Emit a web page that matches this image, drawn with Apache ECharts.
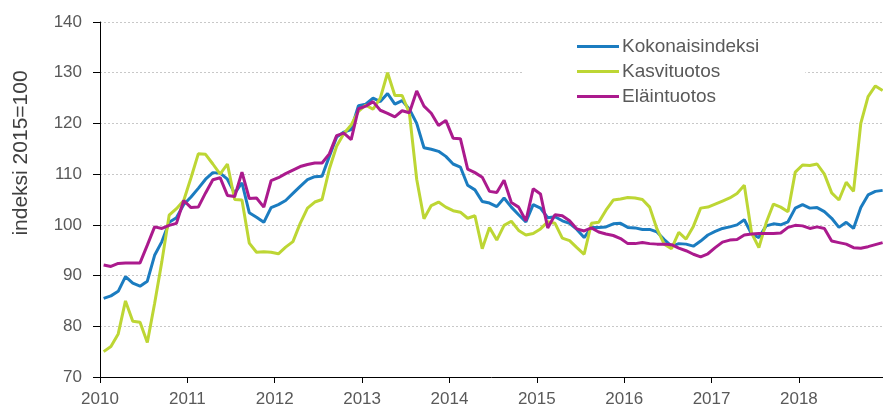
<!DOCTYPE html>
<html><head><meta charset="utf-8">
<script src="https://cdn.jsdelivr.net/npm/echarts@6/dist/echarts.min.js"></script>
<style>html,body{margin:0;padding:0;background:#fff}#c{width:883px;height:412px}</style>
</head><body><div id="c"></div><script>
const years = ['2010','2011','2012','2013','2014','2015','2016','2017','2018'];
const seriesNames = ['Kokonaisindeksi','Kasvituotos','Eläintuotos'];
const yTicks = [70,80,90,100,110,120,130,140];
// monthly values Jan 2010 .. Dec 2018
const kokonais = [
 85.5,86.0,86.9,89.8,88.5,87.9,88.9,94.0,96.7,100.5,101.4,104.0,
 105.5,107.2,109.0,110.3,110.2,109.0,106.2,108.3,102.4,101.5,100.5,103.4,
 104.0,104.8,106.2,107.6,108.9,109.5,109.6,113.5,117.3,118.3,118.8,123.5,
 123.8,125.0,124.3,125.9,123.8,124.5,122.8,120.0,115.2,114.9,114.5,113.5,
 112.0,111.4,107.8,106.9,104.6,104.3,103.6,105.3,103.5,102.0,100.6,104.0,
 103.3,101.4,101.6,100.8,100.3,99.1,97.5,99.5,99.5,99.6,100.2,100.3,
 99.5,99.4,99.1,99.1,98.6,97.1,95.8,96.3,96.2,95.8,96.8,98.0,
 98.7,99.3,99.6,100.0,101.0,98.2,97.5,99.8,100.2,100.0,100.6,103.3,
 104.0,103.3,103.4,102.6,101.3,99.5,100.5,99.3,103.4,105.9,106.6,106.8
];
const kasvi = [
 75.0,76.0,78.5,85.0,81.0,80.8,76.8,84.5,92.8,101.9,103.2,104.8,
 109.3,114.0,113.9,112.0,110.0,112.0,105.0,104.9,96.4,94.6,94.7,94.6,
 94.3,95.6,96.7,100.3,103.3,104.5,105.0,111.0,115.5,118.0,119.7,122.4,
 123.6,122.8,125.0,130.0,125.5,125.5,122.0,109.0,101.2,103.8,104.5,103.5,
 102.8,102.5,101.3,101.8,95.3,99.5,97.0,99.9,100.7,98.9,98.0,98.3,
 99.2,100.6,100.3,97.4,96.9,95.5,94.2,100.3,100.5,102.9,104.9,105.1,
 105.4,105.3,105.0,103.5,99.2,96.2,95.3,98.5,97.2,99.7,103.3,103.5,
 104.1,104.7,105.3,106.2,107.8,98.4,95.5,100.4,104.1,103.5,102.6,110.4,
 111.8,111.7,112.0,110.0,106.3,104.9,108.4,106.6,120.0,125.3,127.4,126.5
];
const elain = [
 92.1,91.8,92.4,92.5,92.5,92.5,96.0,99.6,99.3,99.9,100.3,104.8,
 103.4,103.5,106.3,108.9,109.3,105.8,105.6,110.4,105.2,105.3,103.5,108.7,
 109.3,110.1,110.8,111.5,111.9,112.2,112.2,114.0,117.6,118.1,116.8,122.9,
 123.4,124.3,122.6,122.0,121.3,122.5,122.1,126.4,123.4,122.0,119.6,120.6,
 117.1,117.0,111.0,110.3,109.4,106.6,106.4,108.8,104.4,103.5,100.8,107.1,
 106.1,99.4,102.0,101.8,100.8,99.2,98.8,99.4,98.6,98.2,97.9,97.3,
 96.3,96.3,96.5,96.3,96.2,96.2,96.1,95.4,94.9,94.2,93.7,94.3,
 95.5,96.6,97.0,97.1,98.0,98.2,98.3,98.3,98.3,98.4,99.5,99.9,
 99.8,99.3,99.6,99.3,96.8,96.5,96.2,95.5,95.4,95.7,96.1,96.5
];
const colors = ['#1b7cc0','#bdd634','#ab1a8d'];
const seriesValues = [kokonais, kasvi, elain];
const FONT = '"Liberation Sans", Arial, sans-serif';
const TXT = '#595959';

const chart = echarts.init(document.getElementById('c'), null, {renderer:'canvas'});
chart.setOption({
  animation: false,
  backgroundColor: '#fff',
  grid: {left: 100, right: 0, top: 22, bottom: 35, outerBoundsMode: 'none'},
  xAxis: {
    type: 'value', min: 0, max: 107.55, interval: 12,
    axisLine: {show: true, lineStyle: {color: '#000', width: 1}},
    axisTick: {show: true, length: 6, lineStyle: {color: '#000'}},
    splitLine: {show: false},
    axisLabel: {
      margin: 14, fontSize: 17, color: TXT, fontFamily: FONT,
      formatter: v => (Math.abs(v % 12) < 1e-6 && years[v/12]) ? years[v/12] : ''
    }
  },
  yAxis: {
    type: 'value', min: yTicks[0], max: yTicks[yTicks.length-1], interval: 10,
    axisLine: {show: true, lineStyle: {color: '#000', width: 1}},
    axisTick: {show: true, length: 7, lineStyle: {color: '#000'}},
    splitLine: {show: true, lineStyle: {color: '#c8c8c8', type: [2, 2], width: 1}},
    axisLabel: {margin: 18, fontSize: 17, color: TXT, fontFamily: FONT}
  },
  legend: {
    orient: 'vertical', left: 522, top: 25,
    padding: [12, 46, 12, 55], backgroundColor: '#fff',
    icon: 'rect', itemWidth: 42, itemHeight: 3, itemGap: 6,
    textStyle: {fontSize: 19, color: TXT, fontFamily: FONT, padding: [0,0,0,-2]},
    data: seriesNames
  },
  graphic: [{
    type: 'text', x: 21, y: 153, rotation: Math.PI/2,
    style: {text: 'indeksi 2015=100', fill: '#404040', font: '21px ' + FONT,
            textAlign: 'center', textVerticalAlign: 'middle'}
  }],
  series: seriesNames.map((n, s) => ({
    name: n, type: 'line', showSymbol: false, symbol: 'none',
    lineStyle: {width: 3, color: colors[s]}, itemStyle: {color: colors[s]},
    data: seriesValues[s].map((v, i) => [i + 0.5, v])
  }))
});
</script></body></html>
